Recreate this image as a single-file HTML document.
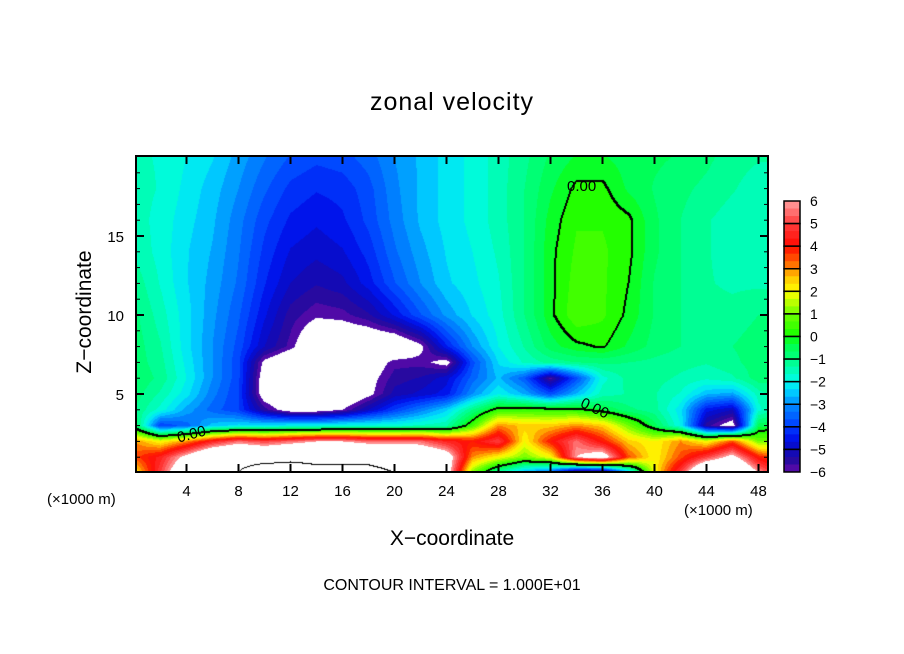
<!DOCTYPE html>
<html><head><meta charset="utf-8"><style>
body{margin:0;background:#fff;width:904px;height:654px;overflow:hidden;position:relative;font-family:"Liberation Sans",sans-serif}
.t{position:absolute;white-space:nowrap;color:#000}
</style></head><body>
<div class="t" style="left:0;width:904px;text-align:center;top:88px;font-size:25px;letter-spacing:1px">zonal velocity</div>
<canvas id="cv" width="632" height="316" style="position:absolute;left:136px;top:156px"></canvas>
<svg id="ax" width="904" height="654" style="position:absolute;left:0;top:0"></svg>
<div class="t" style="left:0;width:904px;text-align:center;top:527px;font-size:21px">X−coordinate</div>
<div class="t" style="left:-15px;top:300px;font-size:21px;transform:rotate(-90deg);transform-origin:center;width:200px;text-align:center">Z−coordinate</div>
<div class="t" style="left:47px;top:491px;font-size:15px">(×1000 m)</div>
<div class="t" style="left:684px;top:502px;font-size:15px">(×1000 m)</div>
<div class="t" style="left:0;width:904px;text-align:center;top:577px;font-size:16px">CONTOUR INTERVAL = 1.000E+01</div>
<div class="t" style="left:567px;top:178px;font-size:15px">0.00</div>
<div class="t" style="left:177px;top:426px;font-size:15px;transform:rotate(-15deg)">0.00</div>
<div class="t" style="left:580px;top:400px;font-size:15px;transform:rotate(25deg)">0.00</div>
<script>
const xNodes=[0,2,4,6,8,10,12,14,16,18,20,22,24,26,28,30,32,34,36,38,40,42,44,46,48,50];
const zNodes=[0,1,2,3,4,5,6,7,8,10,12,14,16,18,20];
const row_z0=[2.0,5.0,8.0,9.0,10,12,12,11,11,11,10,9.0,7.0,1.0,-1.5,-3.0,-4.0,-7.0,-7.0,-3.0,2.0,5.0,9.0,9.0,6.0,4.0];
const row_z1=[3.5,4.5,6.5,8.5,9.0,8.5,9.0,9.0,9.0,9.0,8.5,8.0,7.0,3.0,2.0,1.0,2.0,6.0,7.0,3.5,2.0,3.5,5.0,6.5,4.0,3.0];
const row_z2=[3.0,2.0,3.0,4.5,5.5,5.0,5.5,6.0,6.0,5.5,5.5,5.5,4.5,4.0,5.0,2.0,4.0,5.5,4.0,2.5,2.0,3.0,2.0,3.5,1.0,1.0];
const row_z3=[-0.5,-4.0,-3.5,-2.5,-2.2,-2.2,-2.0,-2.0,-1.8,-1.8,-1.8,-1.6,-1.4,0.5,3.0,2.5,2.5,3.0,2.5,1.0,-0.5,-2.0,-5.5,-6.5,-0.5,-0.3];
const row_z4=[-1.0,-1.8,-2.8,-3.5,-4.0,-5.5,-6.5,-6.5,-6.0,-5.0,-4.0,-3.2,-2.4,-1.0,0.3,0.4,0.3,0.2,-0.3,-0.9,-1.2,-2.2,-4.5,-5.0,-1.8,-0.8];
const row_z5=[-0.8,-1.4,-2.2,-3.2,-4.0,-6.5,-7,-7,-7,-6.2,-5.2,-4.9,-4.5,-3.0,-2.0,-2.7,-3.8,-2.6,-1.5,-1.3,-1.3,-1.7,-2.6,-2.8,-1.5,-1.0];
const row_z6=[-0.7,-1.1,-2.0,-3.0,-3.9,-6.5,-7,-7,-7,-6.3,-5.5,-5.3,-4.8,-3.5,-2.6,-3.6,-5.8,-3.8,-1.8,-1.2,-1.2,-1.4,-1.6,-1.4,-0.8,-0.9];
const row_z7=[-0.8,-1.2,-2.1,-3.0,-3.9,-6.2,-7,-7,-7,-6.6,-5.8,-5.8,-6.3,-3.8,-2.3,-1.6,-1.2,-1.0,-0.9,-1.0,-1.1,-1.2,-1.3,-1.1,-0.8,-0.8];
const row_z8=[-0.8,-1.3,-2.2,-3.0,-3.8,-5.0,-5.8,-7,-7,-7,-7,-6.2,-4.4,-3.0,-2.0,-1.3,-0.5,-0.1,0.05,-0.4,-0.8,-1.0,-1.2,-1.0,-0.8,-0.8];
const row_z10=[-0.9,-1.5,-2.2,-2.9,-3.6,-4.6,-5.5,-5.9,-5.8,-5.4,-4.6,-3.7,-2.9,-2.3,-1.8,-1.0,-0.1,0.6,0.4,-0.1,-0.7,-1.0,-1.2,-1.2,-1.0,-1.0];
const row_z12=[-1.1,-1.7,-2.3,-2.8,-3.4,-4.3,-5.0,-5.3,-5.1,-4.5,-3.7,-3.0,-2.4,-2.1,-1.7,-1.0,-0.1,0.5,0.4,0.0,-0.7,-1.0,-1.3,-1.4,-1.4,-1.4];
const row_z14=[-1.4,-1.8,-2.3,-2.7,-3.3,-4.1,-4.7,-4.9,-4.7,-4.2,-3.4,-2.8,-2.3,-2.0,-1.6,-1.0,-0.1,0.4,0.4,0.1,-0.6,-1.0,-1.3,-1.5,-1.6,-1.6];
const row_z16=[-1.5,-1.8,-2.2,-2.6,-3.2,-3.9,-4.4,-4.6,-4.4,-3.9,-3.2,-2.6,-2.2,-1.9,-1.5,-1.0,-0.2,0.3,0.3,0.1,-0.6,-1.0,-1.3,-1.5,-1.6,-1.6];
const row_z18=[-1.5,-1.7,-2.1,-2.5,-3.0,-3.6,-4.1,-4.3,-4.2,-3.8,-3.1,-2.6,-2.2,-1.9,-1.5,-1.0,-0.4,0.1,0.1,-0.4,-0.7,-0.9,-1.1,-1.3,-1.5,-1.5];
const row_z20=[-1.6,-1.7,-2.0,-2.3,-2.8,-3.3,-3.7,-3.9,-3.8,-3.5,-3.0,-2.6,-2.2,-1.9,-1.5,-1.1,-0.6,-0.3,-0.3,-0.5,-0.6,-0.7,-0.9,-1.2,-1.3,-1.3];
const grid=[row_z0,row_z1,row_z2,row_z3,row_z4,row_z5,row_z6,row_z7,row_z8,row_z10,row_z12,row_z14,row_z16,row_z18,row_z20];
const xTicks=[4,8,12,16,20,24,28,32,36,40,44,48];
const yTicks=[5,10,15];
const cbLevels=[6,5,4,3,2,1,0,-1,-2,-3,-4,-5,-6];

const X0=134.5,XS=13,Z0=473,ZS=15.8;
const sx=x=>X0+x*XS, sz=z=>Z0-z*ZS;
const stops=[[-6,[100,10,170]],[-5.5,[40,10,160]],[-5,[10,10,190]],[-4.5,[0,20,235]],[-4,[0,60,255]],[-3,[0,140,255]],[-2.5,[0,200,255]],[-2,[0,250,235]],[-1,[0,255,130]],[-0.3,[0,255,70]],[0,[20,255,0]],[1,[110,255,0]],[1.6,[200,255,0]],[2,[255,255,0]],[2.6,[255,200,0]],[3.2,[255,110,0]],[4,[255,10,0]],[5,[255,60,60]],[6,[255,160,160]]];
function col(v){
  if(v>6||v<-6)return[255,255,255];
  v=Math.floor(v*3)/3+1/6; v=Math.max(-6,Math.min(6,v));
  for(let i=1;i<stops.length;i++){if(v<=stops[i][0]){const a=stops[i-1],b=stops[i],t=(v-a[0])/(b[0]-a[0]);return a[1].map((c,k)=>Math.round(c+(b[1][k]-c)*t));}}
  return stops[stops.length-1][1];
}
function val(x,z){
  let i=Math.min(xNodes.length-2,Math.max(0,Math.floor(x/2)));let tx=(x-xNodes[i])/(xNodes[i+1]-xNodes[i]);
  let j=0;while(j<zNodes.length-2&&z>zNodes[j+1])j++;let tz=(z-zNodes[j])/(zNodes[j+1]-zNodes[j]);
  tx=Math.max(0,Math.min(1,tx));tz=Math.max(0,Math.min(1,tz));
  const a=grid[j][i],b=grid[j][i+1],c=grid[j+1][i],d=grid[j+1][i+1];
  return (a*(1-tx)+b*tx)*(1-tz)+(c*(1-tx)+d*tx)*tz;
}
const cv=document.getElementById('cv'),ctx=cv.getContext('2d');
const W=632,H=316,img=ctx.createImageData(W,H),V=new Float32Array(W*H);
for(let py=0;py<H;py++)for(let px=0;px<W;px++){V[py*W+px]=val((136+px+0.5-X0)/XS,(Z0-(156+py+0.5))/ZS);}
for(let p=0;p<W*H;p++){const c=col(V[p]);img.data[p*4]=c[0];img.data[p*4+1]=c[1];img.data[p*4+2]=c[2];img.data[p*4+3]=255;}
function mark(p){img.data[p*4]=0;img.data[p*4+1]=0;img.data[p*4+2]=0;}
for(let py=0;py<H-1;py++)for(let px=0;px<W-1;px++){const p=py*W+px,v=V[p],r=V[p+1],d=V[p+W];
  if((v>0)!=(r>0)||(v>0)!=(d>0)){mark(p);mark(p+1);mark(p+W);}
  if((v>10)!=(r>10)||(v>10)!=(d>10)){mark(p);}}
ctx.putImageData(img,0,0);

const NS='http://www.w3.org/2000/svg',ax=document.getElementById('ax');
function el(t,a){const e=document.createElementNS(NS,t);for(const k in a)e.setAttribute(k,a[k]);ax.appendChild(e);return e;}
const fr=el('rect',{x:136,y:156,width:632,height:316,fill:'none',stroke:'#000','stroke-width':2});


xTicks.forEach(t=>{const x=sx(t);
  el('line',{x1:x,y1:156,x2:x,y2:164,stroke:'#000','stroke-width':2});
  el('line',{x1:x,y1:472,x2:x,y2:464,stroke:'#000','stroke-width':2});
  const tx=el('text',{x:x,y:496,'text-anchor':'middle','font-size':15,'font-family':'Liberation Sans, sans-serif'});tx.textContent=t;
  
  });
for(let z=1;z<20;z++){const y=sz(z),L=z%5==0?8:4;
  el('line',{x1:136,y1:y,x2:136+L,y2:y,stroke:'#000','stroke-width':z%5==0?2:1});
  el('line',{x1:768,y1:y,x2:768-L,y2:y,stroke:'#000','stroke-width':z%5==0?2:1});}
yTicks.forEach(t=>{const tx=el('text',{x:124,y:sz(t)+6,'text-anchor':'end','font-size':15,'font-family':'Liberation Sans, sans-serif'});tx.textContent=t;
  
  });
const cbTop=201,cbBot=472,cbH=(cbBot-cbTop)/(cbLevels.length-1);
for(let i=0;i<cbLevels.length-1;i++){
  for(let s=0;s<3;s++){const v=cbLevels[i]-(s+0.5)/3;const c=col(v);
    el('rect',{x:784,y:cbTop+i*cbH+s*cbH/3,width:16,height:cbH/3+0.5,fill:`rgb(${c})`});}
  const b=el('rect',{x:784,y:cbTop+i*cbH,width:16,height:cbH,fill:'none',stroke:'#000','stroke-width':1.5});
  
  }
cbLevels.forEach((l,i)=>{const tx=el('text',{x:810,y:cbTop+i*cbH+5,'font-size':14,'font-family':'Liberation Sans, sans-serif'});tx.textContent=l<0?'−'+(-l):l;
  
  });
</script>
</body></html>
